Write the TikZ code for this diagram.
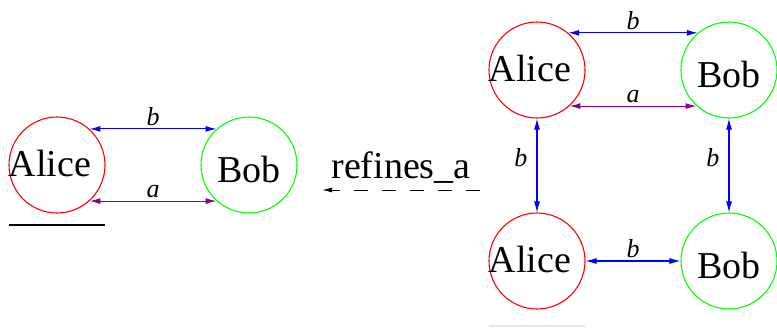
\documentclass[tikz,border=0pt]{standalone}
\usepackage{fontspec}
\setmainfont{Liberation Serif}
\usetikzlibrary{arrows.meta}
\definecolor{linkpurple}{RGB}{139,0,139}
\begin{document}
\begin{tikzpicture}[
  x=1pt, y=-1pt,
  bigtext/.style={font=\fontsize{38}{40}\selectfont, inner sep=0pt},
  agent/.style={circle, draw, line width=1.1pt, minimum size=96pt, inner sep=0pt},
  alice/.style={agent, draw=red, label={[bigtext, xshift=-7pt, yshift=2pt]center:Alice}},
  bob/.style={agent, draw=green, label={[bigtext, yshift=-4pt]center:Bob}},
  link/.style={{Latex[length=11pt,width=6pt]}-{Latex[length=11pt,width=6pt]}, line width=1.1pt},
  blink/.style={link, draw=blue},
  alink/.style={link, draw=linkpurple},
  lbl/.style={font=\fontsize{26}{28}\selectfont\itshape, text=black, inner sep=3pt}
]
\useasboundingbox (0,0) rectangle (777,327);

% before refinement
\node[alice] (aliceL) at (57,165) {};
\node[bob] (bobL) at (249,165) {};
\draw[blink] (aliceL.48) -- node[lbl, above] {b} (bobL.132);
\draw[alink] (aliceL.-48) -- node[lbl, above] {a} (bobL.-132);
\draw[line width=1.2pt] (9,225) -- (105,225);

% refinement
\coordinate (refFrom) at (480,190);
\coordinate (refTo) at (322,190);
\draw[-{Latex[length=10pt,width=5pt]}, line width=1pt, dash pattern=on 14pt off 14pt]
  (refFrom) -- node[above=6pt, bigtext] (refLabel) {refines\_a} (refTo);

% after refinement
\node[alice] (aliceT) at (537,70) {};
\node[bob] (bobT) at (729,70) {};
\node[alice] (aliceB) at (537,261) {};
\node[bob] (bobB) at (729,261) {};
\draw[blink] (aliceT.50) -- node[lbl, above] {b} (bobT.130);
\draw[alink] (aliceT.-48) -- node[lbl, above] {a} (bobT.-132);
\draw[blink] (aliceT.south) -- node[lbl, left=6pt, pos=0.42] {b} (aliceB.north);
\draw[blink] (bobT.south) -- node[lbl, left=6pt, pos=0.42] {b} (bobB.north);
\draw[blink] (aliceB.east) -- node[lbl, above] {b} (bobB.west);
\draw[gray!20, line width=1.2pt] (489,326) -- (585,326);
\end{tikzpicture}
\end{document}
